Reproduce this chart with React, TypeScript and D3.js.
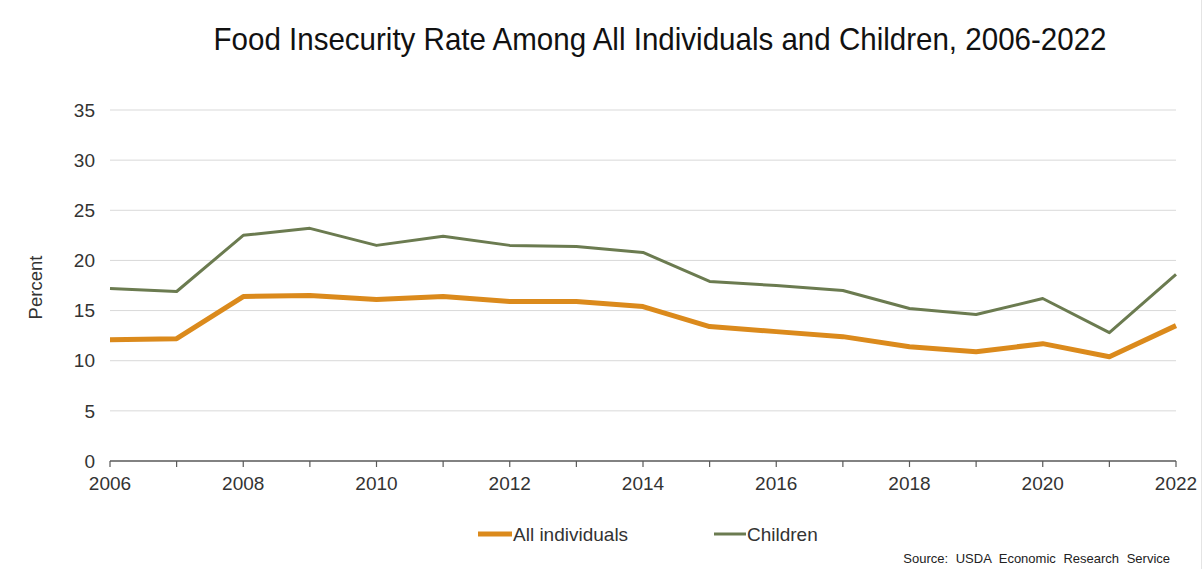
import React from "react";
import * as d3 from "d3";

const years = [2006, 2007, 2008, 2009, 2010, 2011, 2012, 2013, 2014, 2015, 2016, 2017, 2018, 2019, 2020, 2021, 2022];
const allIndividuals = [12.1, 12.2, 16.4, 16.5, 16.1, 16.4, 15.9, 15.9, 15.4, 13.4, 12.9, 12.4, 11.4, 10.9, 11.7, 10.4, 13.5];
const children = [17.2, 16.9, 22.5, 23.2, 21.5, 22.4, 21.5, 21.4, 20.8, 17.9, 17.5, 17.0, 15.2, 14.6, 16.2, 12.8, 18.6];
const yTicks = [0, 5, 10, 15, 20, 25, 30, 35];
const xLabelYears = [2006, 2008, 2010, 2012, 2014, 2016, 2018, 2020, 2022];
const seriesNames = ["All individuals", "Children"];

const W = 1204;
const H = 569;
const M = { left: 110, right: 28, top: 110, bottom: 108 };
const ORANGE = "#DB8A1C";
const GREEN = "#6B7B50";
const FONT = "Arial, 'Liberation Sans', sans-serif";

export default function App() {
  const x = d3.scaleLinear().domain([2006, 2022]).range([M.left, W - M.right]);
  const y = d3.scaleLinear().domain([0, 35]).range([H - M.bottom, M.top]);
  const line = d3
    .line<number>()
    .x((_, i) => x(years[i]))
    .y((d) => y(d));

  return (
    <div style={{ position: "fixed", left: 0, top: 0, width: W, height: H, background: "#fff" }}>
      <svg width={W} height={H} style={{ display: "block" }} fontFamily={FONT}>
        <rect x={0} y={0} width={W} height={H} fill="#fff" />
        <line x1={W - 2.5} x2={W - 2.5} y1={0} y2={H} stroke="#e4e4e4" strokeWidth={1} />
        <text
          x={660}
          y={50}
          textAnchor="middle"
          fontSize={32}
          fill="#111"
          textLength={893}
          lengthAdjust="spacingAndGlyphs"
        >
          Food Insecurity Rate Among All Individuals and Children, 2006-2022
        </text>

        {yTicks.map((t) => (
          <g key={t}>
            {t > 0 && (
              <line x1={x(2006)} x2={x(2022)} y1={y(t)} y2={y(t)} stroke="#d9d9d9" strokeWidth={1} />
            )}
            <text x={95} y={y(t)} dy="0.35em" textAnchor="end" fontSize={19} fill="#333">
              {t}
            </text>
          </g>
        ))}

        <line x1={x(2006)} x2={x(2022)} y1={y(0)} y2={y(0)} stroke="#595959" strokeWidth={1.3} />
        {years.map((yr) => (
          <line key={yr} x1={x(yr)} x2={x(yr)} y1={y(0)} y2={y(0) + 6} stroke="#595959" strokeWidth={1.2} />
        ))}
        {xLabelYears.map((yr) => (
          <text key={yr} x={x(yr)} y={490} textAnchor="middle" fontSize={19} fill="#333">
            {yr}
          </text>
        ))}

        <text
          transform={`translate(42,${(y(0) + y(35)) / 2 + 2}) rotate(-90)`}
          textAnchor="middle"
          fontSize={18.5}
          fill="#333"
        >
          Percent
        </text>

        <path d={line(children) || ""} fill="none" stroke={GREEN} strokeWidth={3} strokeLinejoin="round" />
        <path d={line(allIndividuals) || ""} fill="none" stroke={ORANGE} strokeWidth={5} strokeLinejoin="round" />

        <line x1={478} x2={512} y1={534} y2={534} stroke={ORANGE} strokeWidth={5} />
        <text x={513} y={534} dy="0.35em" fontSize={19} fill="#333">
          {seriesNames[0]}
        </text>
        <line x1={714} x2={746} y1={534} y2={534} stroke={GREEN} strokeWidth={3} />
        <text x={747} y={534} dy="0.35em" fontSize={19} fill="#333">
          {seriesNames[1]}
        </text>

        <text x={1170} y={563} textAnchor="end" fontSize={13} fill="#222" wordSpacing={4}>
          Source: USDA Economic Research Service
        </text>
      </svg>
    </div>
  );
}
